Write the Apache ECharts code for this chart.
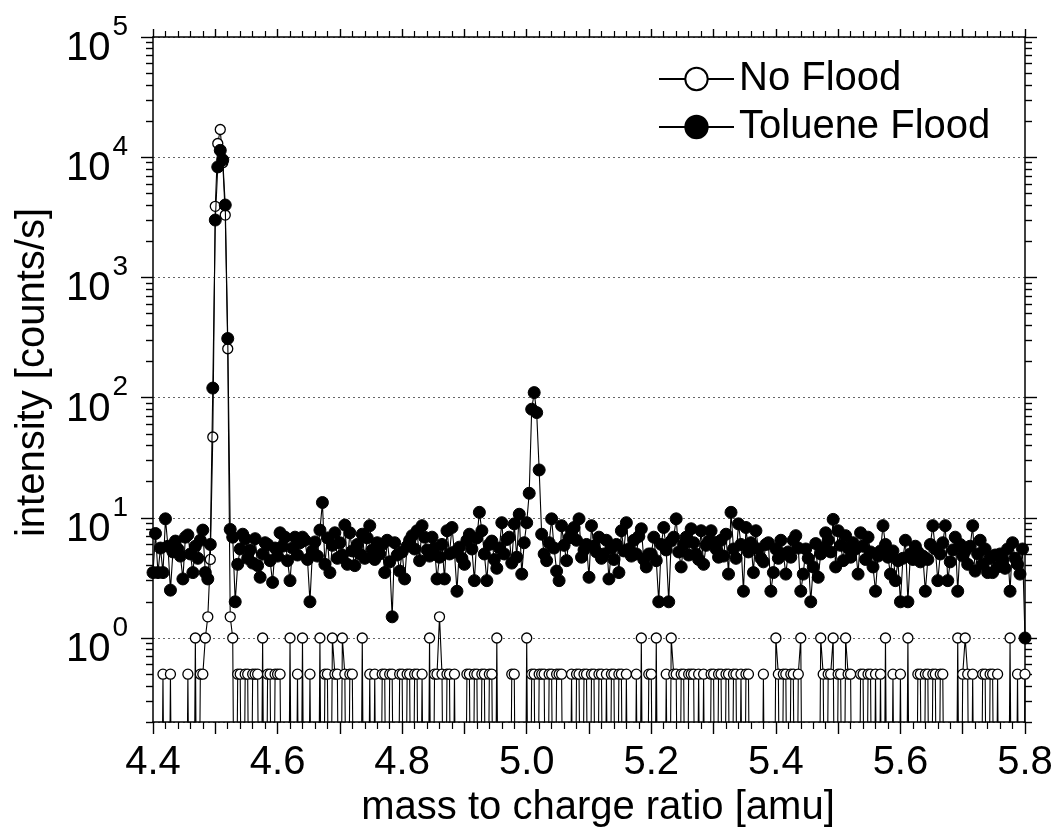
<!DOCTYPE html>
<html><head><meta charset="utf-8">
<script src="https://cdn.jsdelivr.net/npm/echarts@6/dist/echarts.min.js"></script>
<style>html,body{margin:0;padding:0;background:#fff}#c{width:1063px;height:833px}</style>
</head><body><div id="c"></div><script>
// sampling grid of the spectrum (m/z)
const mzStart = 4.4, mzStep = 0.004;

// No Flood intensity [counts/s], one value per m/z sample (0 = no counts)
const noFlood = [
 0,0,0,0,0.5,0,0,0.5,0,0,0,0,0,0,0.5,0,0,1,0,0.5,0.5,1,1.5,4.5,47,
 3900,13000,17000,9000,3300,255,1.5,1,0,0.5,0.5,0,0.5,0.5,0,0.5,0.5,0.5,0,1,0,0.5,0.5,0,0.5,
 0.5,0.5,0,0,0,1,0,0,0.5,0,1,0,0,0.5,0,0,0,1,0,0.5,0.5,0,1,0.5,0.5,
 0,1,0.5,0,0.5,0.5,0,0,0,1,0,0,0.5,0,0.5,0,0,0.5,0.5,0,0.5,0.5,0,0,0.5,
 0.5,0,0.5,0.5,0,0.5,0.5,0,0.5,0,0,1,0,0.5,0.5,1.5,0.5,0,0.5,0.5,0,0.5,0,0,0,
 0,0.5,0.5,0,0.5,0.5,0,0.5,0.5,0,0.5,0.5,0,1,0,0,0,0,0,0.5,0.5,0,0,0,0,
 1,0,0.5,0.5,0,0.5,0.5,0.5,0,0.5,0.5,0,0.5,0.5,0.5,0,0,0,0.5,0,0.5,0.5,0,0.5,0.5,
 0,0.5,0.5,0,0.5,0.5,0,0.5,0,0.5,0.5,0,0.5,0.5,0,0.5,0,0,0,0.5,0,1,0,0,0.5,
 0.5,0,1,0,0,0,0.5,0,1,0.5,0.5,0,0.5,0.5,0,0.5,0.5,0.5,0,0.5,0,0.5,0,0,0.5,
 0.5,0,0.5,0.5,0,0.5,0.5,0,0.5,0.5,0,0.5,0,0.5,0.5,0,0,0,0,0,0.5,0,0,0,0,
 1,0.5,0,0.5,0.5,0,0.5,0.5,0,0.5,1,0,0,0,0,0,0,0,1,0.5,0,0.5,0.5,1,0,
 0.5,0.5,0,1,0.5,0.5,0,0,0,0.5,0.5,0,0.5,0.5,0,0.5,0,0.5,0,1,0,0,0.5,0,0,
 0.5,0,0,1,0,0,0,0.5,0.5,0,0.5,0.5,0,0.5,0.5,0,0.5,0.5,0,0,0,0,0,1,0,
 0.5,1,0.5,0,0.5,0,0,0,0.5,0.5,0,0.5,0.5,0,0.5,0,0,0,0,1,0,0,0.5,0,0,0.5
];

// Toluene Flood intensity [counts/s], same m/z samples
const toluene = [
 3.5,7.4,3.5,5.6,3.5,9.8,5.8,2.5,5.2,6.4,5.5,4.8,3.1,6.9,7.2,5.0,3.5,5.8,4.6,6.5,7.9,3.5,3.1,6.0,120,
 3000,8300,11400,9500,4000,310,8.0,6.9,2.0,4.1,5.5,7.3,6.7,4.6,5.4,4.2,6.7,4.0,3.2,5.0,6.2,6.0,4.4,2.9,5.6,
 4.8,7.5,5.8,6.9,4.4,3.0,5.6,6.9,4.9,6.2,6.9,6.5,4.5,2.0,5.3,6.3,4.8,7.9,13.4,4.1,6.8,3.5,5.9,7.5,4.6,
 6.2,4.9,8.7,4.1,7.5,5.3,4.0,6.0,5.0,7.3,4.6,6.8,8.6,5.4,4.5,6.2,5.0,6.0,3.5,6.5,4.3,1.5,6.2,4.9,3.6,
 5.2,3.1,5.8,6.5,7.1,5.5,7.8,4.4,8.6,6.9,5.4,4.8,6.9,5.6,3.1,4.7,6.0,3.1,7.8,5.0,8.3,5.2,2.45,5.7,4.6,
 4.1,6.5,7.3,5.5,3.0,6.8,11.1,7.8,5.0,3.0,6.0,6.4,4.5,3.8,5.6,9.1,5.0,6.6,6.9,4.2,8.9,4.7,10.7,3.4,6.2,
 9.1,16,80,110,75,25,7.3,5.0,4.4,6.2,9.8,5.6,3.6,3.0,8.6,5.9,4.4,6.8,7.8,8.3,6.5,9.8,4.7,5.4,6.0,
 3.2,8.6,5.8,5.2,6.9,4.6,5.0,6.5,3.1,5.6,4.5,6.0,3.5,7.8,5.3,9.1,5.5,4.8,6.5,5.0,7.0,8.1,4.5,3.9,5.0,
 5.0,6.9,4.4,2.0,6.0,8.3,5.4,2.0,6.4,6.9,9.8,5.2,3.9,6.0,6.9,4.9,8.1,6.2,5.0,4.5,7.8,4.1,5.9,6.4,7.8,
 6.3,5.5,4.7,6.5,4.8,7.3,3.4,11.1,5.5,4.6,8.9,6.0,2.45,8.3,5.2,6.2,3.5,7.8,5.5,4.6,4.3,6.0,6.2,2.45,3.5,
 5.5,4.6,6.5,5.0,3.4,5.2,4.7,6.5,7.1,5.6,2.45,3.4,5.5,4.6,2.0,3.9,6.1,3.2,5.0,5.6,7.5,6.5,5.2,9.7,3.9,
 7.8,5.9,4.4,7.1,5.6,4.7,6.2,5.5,3.4,7.5,5.8,4.5,6.9,5.2,3.9,2.45,4.8,5.3,8.6,6.0,4.7,3.4,5.3,3.0,4.4,
 2.0,4.6,6.5,2.0,5.0,4.5,5.8,5.2,4.3,4.8,2.45,4.5,6.0,8.6,5.5,3.0,5.0,6.2,8.6,3.0,4.3,5.4,6.9,2.45,6.0,
 4.8,5.3,4.1,5.8,8.6,3.6,5.0,6.5,4.1,5.5,3.5,4.6,3.5,4.9,3.9,5.0,4.5,3.8,5.5,2.45,6.2,4.6,4.1,3.4,5.5,1.0
];

const seriesNames = ['No Flood', 'Toluene Flood'];
const xTickLabels = ['4.4','4.6','4.8','5.0','5.2','5.4','5.6','5.8'];
const yDecades = [0, 1, 2, 3, 4, 5];          // labelled powers of ten
const xRange = [4.4, 5.8];
const yRange = [0.2, 1e5];

const FONT = '"Liberation Sans", Arial, Helvetica, sans-serif';
const BLACK = '#000';

const xs = noFlood.map((_, i) => +(mzStart + i * mzStep).toFixed(4));
const ZERO_FLOOR = 1e-3; // zero counts sit below the log axis and are clipped
const toPts = arr => arr.map((v, i) => [xs[i], v > 0 ? v : ZERO_FLOOR]);

// log-axis minor tick positions (2..9 x 10^n) in log10 space
const minorLog = [];
for (let n = -1; n <= 4; n++) for (let k = 2; k <= 9; k++) {
  const v = k * Math.pow(10, n);
  if (v >= yRange[0] - 1e-9 && v <= yRange[1]) minorLog.push(Math.log10(v));
}
const logMin = Math.log10(yRange[0]), logMax = Math.log10(yRange[1]);

const chart = echarts.init(document.getElementById('c'), null, {renderer: 'canvas'});

const tickLine = {color: BLACK, width: 1.4};
function auxY(position, values, len, showLine) {
  return {
    type: 'value', position, min: logMin, max: logMax,
    axisLine: {show: showLine, onZero: false, lineStyle: {color: BLACK, width: 1.5}},
    axisTick: {show: true, inside: false, length: len, customValues: values, lineStyle: tickLine},
    axisLabel: {show: false}, splitLine: {show: false}
  };
}

chart.setOption({
  animation: false,
  backgroundColor: '#fff',
  grid: {left: 153, top: 37, width: 872, height: 688, containLabel: false},
  legend: {
    orient: 'vertical', left: 653, top: 54,
    itemWidth: 75, itemHeight: 28, itemGap: 8,
    data: seriesNames,
    textStyle: {fontSize: 40, color: BLACK, fontFamily: FONT}
  },
  xAxis: [
    {
      type: 'value', position: 'bottom', min: xRange[0], max: xRange[1], interval: 0.1,
      axisLine: {show: true, onZero: false, lineStyle: {color: BLACK, width: 1.5}},
      axisTick: {show: true, inside: false, length: 12, lineStyle: tickLine},
      minorTick: {show: true, splitNumber: 5, length: 7, lineStyle: {color: BLACK, width: 1.2}},
      axisLabel: {
        margin: 21, fontSize: 40, color: BLACK, fontFamily: FONT,
        formatter: v => { const s = v.toFixed(1); return xTickLabels.includes(s) ? s : ''; }
      },
      splitLine: {show: false},
      name: 'mass to charge ratio [amu]', nameLocation: 'middle', nameGap: 66,
      nameTextStyle: {fontSize: 40, color: BLACK, fontFamily: FONT, padding: [0, 0, 0, 18]}
    },
    {
      type: 'value', position: 'top', min: xRange[0], max: xRange[1], interval: 0.1,
      axisLine: {show: true, onZero: false, lineStyle: {color: BLACK, width: 1.5}},
      axisTick: {show: true, inside: false, length: 8, lineStyle: tickLine},
      minorTick: {show: true, splitNumber: 5, length: 6, lineStyle: {color: BLACK, width: 1.2}},
      axisLabel: {show: false}, splitLine: {show: false}
    }
  ],
  yAxis: [
    {
      type: 'log', logBase: 10, position: 'left', min: yRange[0], max: yRange[1],
      axisLine: {show: true, onZero: false, lineStyle: {color: BLACK, width: 1.5}},
      axisTick: {show: false},
      axisLabel: {
        margin: 25, color: BLACK, fontFamily: FONT,
        formatter: v => {
          const l = Math.log10(v), e = Math.round(l);
          if (Math.abs(l - e) > 1e-6 || !yDecades.includes(e)) return '';
          return '{b|10}{s|' + e + '}';
        },
        rich: {
          b: {fontSize: 40, color: BLACK, fontFamily: FONT, padding: [24, 0, 0, 0]},
          s: {fontSize: 28, color: BLACK, fontFamily: FONT, padding: [0, 0, 20, 2]}
        }
      },
      splitLine: {show: true, lineStyle: {color: '#666', width: 1, type: [2, 3]}},
      name: 'intensity [counts/s]', nameLocation: 'middle', nameGap: 100, nameRotate: 90,
      nameTextStyle: {fontSize: 40, color: BLACK, fontFamily: FONT, padding: [0, 0, 0, 14]}
    },
    auxY('left', yDecades, 12, false),
    auxY('left', minorLog, 7, false),
    auxY('right', yDecades, 12, true),
    auxY('right', minorLog, 7, false)
  ],
  series: [
    {
      name: seriesNames[0], type: 'line', xAxisIndex: 0, yAxisIndex: 0,
      data: toPts(noFlood), clip: true, z: 3,
      symbol: 'circle', symbolSize: 10, showSymbol: true,
      lineStyle: {color: BLACK, width: 1.1},
      itemStyle: {color: '#fff', borderColor: BLACK, borderWidth: 1.3},
      emphasis: {disabled: true}
    },
    {
      name: seriesNames[1], type: 'line', xAxisIndex: 0, yAxisIndex: 0,
      data: toPts(toluene), clip: true, z: 4,
      symbol: 'circle', symbolSize: 12, showSymbol: true,
      lineStyle: {color: BLACK, width: 1.1},
      itemStyle: {color: BLACK, borderColor: BLACK, borderWidth: 1},
      emphasis: {disabled: true}
    }
  ]
});
</script></body></html>
